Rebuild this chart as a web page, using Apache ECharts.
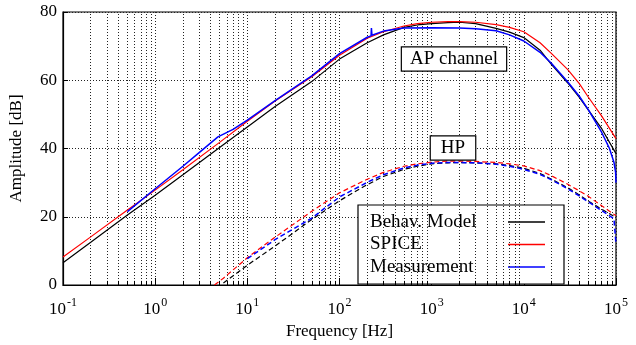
<!DOCTYPE html>
<html>
<head>
<meta charset="utf-8">
<style>
  html, body { margin: 0; padding: 0; background: #fff; }
  #chart { width: 636px; height: 345px; }
</style>
<script src="https://cdn.jsdelivr.net/npm/echarts@6/dist/echarts.min.js"></script>
</head>
<body>
<div id="chart"></div>
<script>
'use strict';

// AP channel: model / SPICE share one frequency grid (Hz)
const apFreq = [0.1, 0.2, 0.5, 1, 2, 5, 10, 20, 50, 100, 200, 300, 500, 700, 1000, 1500, 2000, 3000, 5000, 7000, 10000, 15000, 20000, 30000, 40000, 50000, 70000, 100000];
const apModel = [6.5, 12.5, 20.5, 26.3, 32.3, 40.3, 46.3, 52.3, 59.6, 66.2, 71.0, 73.3, 75.5, 76.2, 76.6, 76.9, 77.0, 76.6, 75.2, 74.1, 72.5, 68.8, 64.6, 59.2, 55.0, 51.3, 45.8, 38.5];
const apSpice = [8.2, 14.1, 22.0, 27.8, 33.8, 41.8, 48.0, 53.9, 61.0, 67.3, 72.3, 74.2, 75.9, 76.6, 77.0, 77.2, 77.2, 77.0, 76.3, 75.5, 74.2, 71.0, 67.8, 63.1, 59.0, 55.1, 49.5, 42.9];

// AP channel measurement
const apMeasFreq = [0.5, 1, 2, 3, 4.8, 7, 10, 20, 50, 100, 200, 220, 222, 225, 300, 500, 1000, 2000, 3000, 5000, 7000, 10000, 15000, 20000, 30000, 40000, 50000, 70000, 85000, 95000, 99000, 100000];
const apMeas = [21.5, 28.2, 34.8, 38.8, 43.4, 45.6, 48.3, 54.0, 61.3, 67.8, 72.6, 73.0, 75.3, 73.2, 74.4, 75.3, 75.4, 75.3, 75.1, 74.5, 73.3, 71.5, 68.2, 64.9, 59.5, 55.3, 51.4, 44.7, 40.0, 36.0, 33.0, 30.0];

// HP channel
const hpFreq = [4.4, 5.5, 10, 20, 50, 100, 200, 300, 500, 700, 1000, 1500, 2000, 3000, 5000, 7000, 10000, 15000, 20000, 30000, 40000, 50000, 70000, 100000];
const hpModel = [null, 0.6, 5.8, 11.4, 19.2, 24.7, 29.4, 31.8, 33.9, 34.8, 35.5, 35.8, 35.9, 35.8, 35.5, 35.0, 34.2, 32.7, 31.0, 28.5, 26.4, 24.6, 22.2, 19.8];
const hpSpice = [0.0, 2.0, 8.0, 14.0, 21.6, 27.0, 31.0, 33.0, 34.8, 35.5, 36.0, 36.3, 36.3, 36.2, 35.9, 35.5, 34.9, 33.5, 32.0, 29.5, 27.6, 26.0, 23.2, 20.3];

const hpMeasFreq = [10, 20, 50, 100, 200, 300, 500, 700, 1000, 1500, 2000, 3000, 5000, 7000, 10000, 15000, 20000, 30000, 40000, 50000, 70000, 95000, 100000];
const hpMeas = [7.7, 13.3, 19.6, 25.8, 30.1, 32.3, 34.3, 35.1, 35.7, 35.9, 35.9, 35.8, 35.4, 34.8, 33.9, 32.4, 30.8, 28.2, 26.1, 24.4, 21.8, 19.4, 12.0];

const legendNames = ['Behav. Model', 'SPICE', 'Measurement'];
const yTicks = [0, 20, 40, 60, 80];

const FONT = '"Liberation Serif", "Times New Roman", serif';

const zip = (xs, ys) => xs.map((x, i) => [x, ys[i]]);

// minor log grid positions 2..9 x 10^d
const minorGrid = [];
for (let d = -1; d < 5; d++) {
    for (let k = 2; k <= 9; k++) minorGrid.push(+(k * Math.pow(10, d)).toPrecision(3));
}

const lineSeries = (name, xs, ys, color, dashed, width) => ({
    name: name,
    type: 'line',
    data: zip(xs, ys),
    showSymbol: false,
    symbol: 'none',
    smooth: false,
    connectNulls: false,
    z: 5,
    lineStyle: {color: color, width: width || 1.2, type: dashed ? [5, 3] : 'solid'},
    itemStyle: {color: color},
    animation: false
});

const chart = echarts.init(document.getElementById('chart'), null, {renderer: 'canvas'});

chart.setOption({
    animation: false,
    grid: {
        left: 61, right: 20, top: 12, bottom: 53,
        show: true, borderColor: '#000', borderWidth: 1.2, backgroundColor: 'transparent'
    },
    xAxis: {
        type: 'log',
        logBase: 10,
        min: 0.1,
        max: 100000,
        interval: 1,
        name: 'Frequency [Hz]',
        nameLocation: 'middle',
        nameGap: 38,
        nameTextStyle: {fontFamily: FONT, fontSize: 17, color: '#000'},
        axisLine: {lineStyle: {color: '#000', width: 1.2}},
        axisTick: {inside: true, length: 7, lineStyle: {color: '#000'}},
        splitLine: {show: true, lineStyle: {color: '#222', type: [1, 2], width: 1}},
        axisLabel: {
            margin: 13,
            formatter: (v) => {
                const e = Math.round(Math.log10(v));
                return '{b|10}{s|' + e + '}';
            },
            rich: {
                b: {fontFamily: FONT, fontSize: 17, color: '#000', lineHeight: 20, verticalAlign: 'bottom'},
                s: {fontFamily: FONT, fontSize: 12, color: '#000', lineHeight: 20, verticalAlign: 'bottom', padding: [0, 0, 9, 1]}
            }
        }
    },
    yAxis: {
        type: 'value',
        min: yTicks[0],
        max: yTicks[yTicks.length - 1],
        interval: 20,
        name: 'Amplitude [dB]',
        nameLocation: 'middle',
        nameGap: 38,
        nameTextStyle: {fontFamily: FONT, fontSize: 17, color: '#000'},
        axisLine: {show: true, lineStyle: {color: '#000', width: 1.2}},
        axisTick: {show: true, inside: true, length: 5, lineStyle: {color: '#000'}},
        splitLine: {show: true, lineStyle: {color: '#222', type: [1, 2], width: 1}},
        axisLabel: {fontFamily: FONT, fontSize: 17, color: '#000', margin: 6}
    },
    legend: {
        data: legendNames,
        orient: 'vertical',
        left: 358,
        top: 205,
        align: 'right',
        icon: 'rect',
        itemWidth: 37,
        itemHeight: 1.5,
        itemGap: 3.5,
        padding: [7.5, 19, 7.5, 12],
        backgroundColor: '#fff',
        borderColor: '#000',
        borderWidth: 1.2,
        borderRadius: 0,
        formatter: (name) => '{t|' + name + '}',
        textStyle: {
            fontFamily: FONT, fontSize: 19, color: '#000',
            rich: {t: {fontFamily: FONT, fontSize: 19, color: '#000', width: 133, align: 'left', lineHeight: 19}}
        },
        inactiveColor: '#000',
        selectedMode: false
    },
    graphic: [
        {
            type: 'text', x: 454, y: 59, z: 20,
            style: {
                text: 'AP channel', font: '19px ' + FONT, fill: '#000',
                textAlign: 'center', textVerticalAlign: 'middle',
                backgroundColor: '#fff', borderColor: '#000', borderWidth: 1.2, padding: [2, 8]
            }
        },
        {
            type: 'text', x: 453, y: 148, z: 20,
            style: {
                text: 'HP', font: '19px ' + FONT, fill: '#000',
                textAlign: 'center', textVerticalAlign: 'middle',
                backgroundColor: '#fff', borderColor: '#000', borderWidth: 1.2, padding: [2, 10]
            }
        }
    ],
    series: [
        {
            name: 'minor-grid',
            type: 'line',
            data: [],
            silent: true,
            animation: false,
            markLine: {
                silent: true,
                symbol: 'none',
                label: {show: false},
                lineStyle: {color: '#222', type: [1, 2], width: 1},
                data: minorGrid.map((f) => ({xAxis: f}))
            }
        },
        {
            name: 'minor-ticks',
            type: 'line',
            data: [],
            silent: true,
            animation: false,
            markLine: {
                silent: true,
                symbol: 'none',
                label: {show: false},
                lineStyle: {color: '#000', type: 'solid', width: 1},
                data: minorGrid.map((f) => [{coord: [f, 0]}, {coord: [f, 1.2]}])
            }
        },
        lineSeries(legendNames[0], apFreq, apModel, '#000000', false),
        lineSeries(legendNames[1], apFreq, apSpice, '#ff0000', false),
        lineSeries(legendNames[2], apMeasFreq, apMeas, '#0000ff', false, 1.5),
        lineSeries(legendNames[0], hpFreq, hpModel, '#000000', true),
        lineSeries(legendNames[1], hpFreq, hpSpice, '#ff0000', true),
        lineSeries(legendNames[2], hpMeasFreq, hpMeas, '#0000ff', true, 1.5)
    ]
});
</script>
</body>
</html>
